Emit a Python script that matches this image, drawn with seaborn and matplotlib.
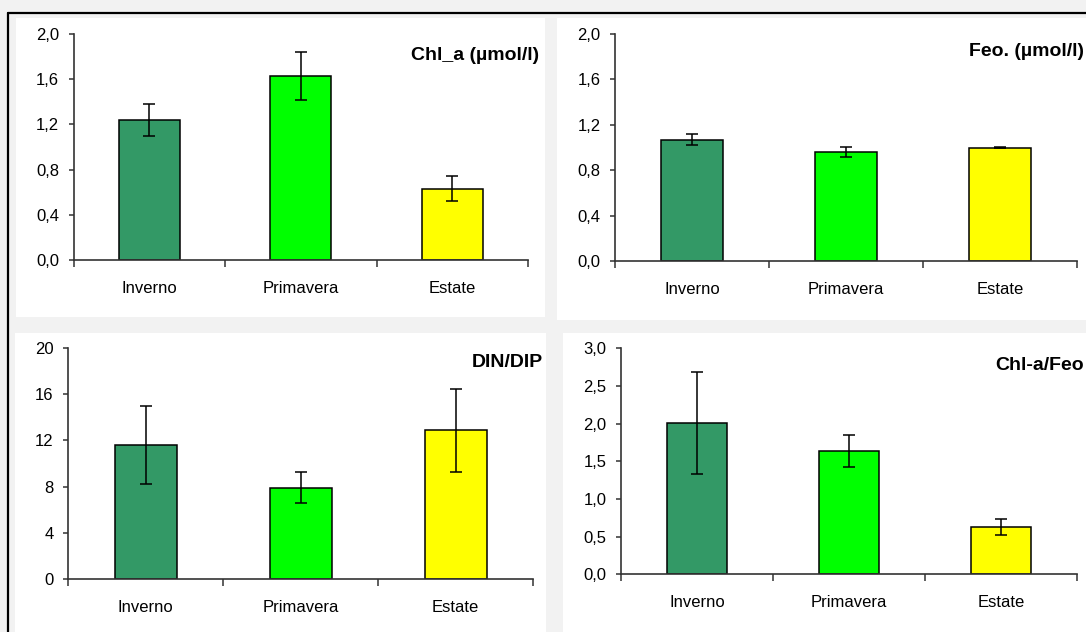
import numpy as np
import pandas as pd
import matplotlib
matplotlib.use("Agg")
import matplotlib.pyplot as plt
from matplotlib.patches import Rectangle
from matplotlib.lines import Line2D
import seaborn as sns

# ---- data ---------------------------------------------------------------
seasons = ["Inverno", "Primavera", "Estate"]
season_colors = ["#339966", "#00ff00", "#ffff00"]

chl_a_mean = [1.24, 1.63, 0.63]
chl_a_err = [0.14, 0.21, 0.11]

feo_mean = [1.07, 0.96, 1.00]
feo_err = [0.05, 0.045, 0.003]

din_dip_mean = [11.6, 7.9, 12.9]
din_dip_err = [3.4, 1.33, 3.6]

chl_feo_mean = [2.01, 1.64, 0.63]
chl_feo_err = [0.68, 0.21, 0.11]

conc_ticks = [0.0, 0.4, 0.8, 1.2, 1.6, 2.0]
conc_ticklabels = ["0,0", "0,4", "0,8", "1,2", "1,6", "2,0"]
din_ticks = [0, 4, 8, 12, 16, 20]
din_ticklabels = ["0", "4", "8", "12", "16", "20"]
ratio_ticks = [0.0, 0.5, 1.0, 1.5, 2.0, 2.5, 3.0]
ratio_ticklabels = ["0,0", "0,5", "1,0", "1,5", "2,0", "2,5", "3,0"]

titles = ["Chl_a (µmol/l)", "Feo. (µmol/l)", "DIN/DIP", "Chl-a/Feo"]

# ---- style --------------------------------------------------------------
sns.set_style("white")
plt.rcParams["font.family"] = ["Liberation Sans", "DejaVu Sans"]

W, H = 1086, 632
fig = plt.figure(figsize=(W / 100, H / 100), dpi=100, facecolor="#f2f2f2")


def frac_box(x0, y0, x1, y1):
    """Pixel box (top-left origin) -> figure-fraction [left, bottom, w, h]."""
    return [x0 / W, 1 - y1 / H, (x1 - x0) / W, (y1 - y0) / H]


# outer frame lines
fig.add_artist(Line2D([8 / W, 1.0], [1 - 13.3 / H, 1 - 13.3 / H],
                      transform=fig.transFigure, color="black", lw=1.6))
fig.add_artist(Line2D([8 / W, 8 / W], [1 - 13.3 / H, 0.0],
                      transform=fig.transFigure, color="black", lw=1.6))

# white chart areas
panel_boxes = [(16, 18, 545, 317), (557, 18, 1086, 320),
               (15, 333, 546, 632), (563, 333, 1086, 632)]
for (x0, y0, x1, y1) in panel_boxes:
    l, b, w, h = frac_box(x0, y0, x1, y1)
    fig.add_artist(Rectangle((l, b), w, h, transform=fig.transFigure,
                             facecolor="white", edgecolor="none", zorder=0))

# plot areas
axes_boxes = [(73.5, 34, 528, 260), (615, 34, 1077, 261),
              (68, 348.3, 533, 578.7), (621, 348.3, 1077, 574.3)]

panels = [
    (chl_a_mean, chl_a_err, conc_ticks, conc_ticklabels),
    (feo_mean, feo_err, conc_ticks, conc_ticklabels),
    (din_dip_mean, din_dip_err, din_ticks, din_ticklabels),
    (chl_feo_mean, chl_feo_err, ratio_ticks, ratio_ticklabels),
]

axis_color = "#333333"
text_color = "#000000"

for box, (mean, err, yt, ytl) in zip(axes_boxes, panels):
    ax = fig.add_axes(frac_box(*box))
    ax.set_facecolor("none")
    df = pd.DataFrame({"season": seasons, "value": mean})
    sns.barplot(data=df, x="season", y="value", hue="season",
                palette=dict(zip(seasons, season_colors)), saturation=1,
                width=0.4, edgecolor="black", linewidth=1.1,
                legend=False, ax=ax, zorder=2)
    ax.errorbar(np.arange(len(seasons)), mean, yerr=err, fmt="none",
                ecolor="black", elinewidth=1.1, capsize=4, capthick=1.1,
                zorder=3)

    ax.set_xlim(-0.5, len(seasons) - 0.5)
    ax.set_ylim(yt[0], yt[-1])
    ax.set_yticks(yt)
    ax.set_yticklabels(ytl)
    ax.set_xticks(np.arange(len(seasons) + 1) - 0.5)
    ax.set_xticklabels([])
    ax.set_xticks(np.arange(len(seasons)), minor=True)
    ax.set_xticklabels(seasons, minor=True)
    ax.set_xlabel("")
    ax.set_ylabel("")

    for side in ("top", "right"):
        ax.spines[side].set_visible(False)
    for side in ("left", "bottom"):
        ax.spines[side].set_color(axis_color)
        ax.spines[side].set_linewidth(1.2)

    ax.tick_params(axis="y", which="major", direction="out", length=3.5,
                   width=1.1, color=axis_color, pad=7, labelsize=12,
                   labelcolor=text_color, left=True)
    ax.tick_params(axis="x", which="major", direction="out", length=5,
                   width=1.1, color=axis_color, bottom=True)
    ax.tick_params(axis="x", which="minor", length=0, pad=15,
                   labelsize=12, labelcolor=text_color, bottom=True)

# panel titles
title_kw = dict(fontsize=14, fontweight="bold", color="black", va="center")
fig.text(539 / W, 1 - 56 / H, titles[0], ha="right", **title_kw)
fig.text(969 / W, 1 - 52 / H, titles[1], ha="left", **title_kw)
fig.text(543 / W, 1 - 363 / H, titles[2], ha="right", **title_kw)
fig.text(995 / W, 1 - 366 / H, titles[3], ha="left", **title_kw)

fig.savefig("out.png", dpi=100, facecolor=fig.get_facecolor())
